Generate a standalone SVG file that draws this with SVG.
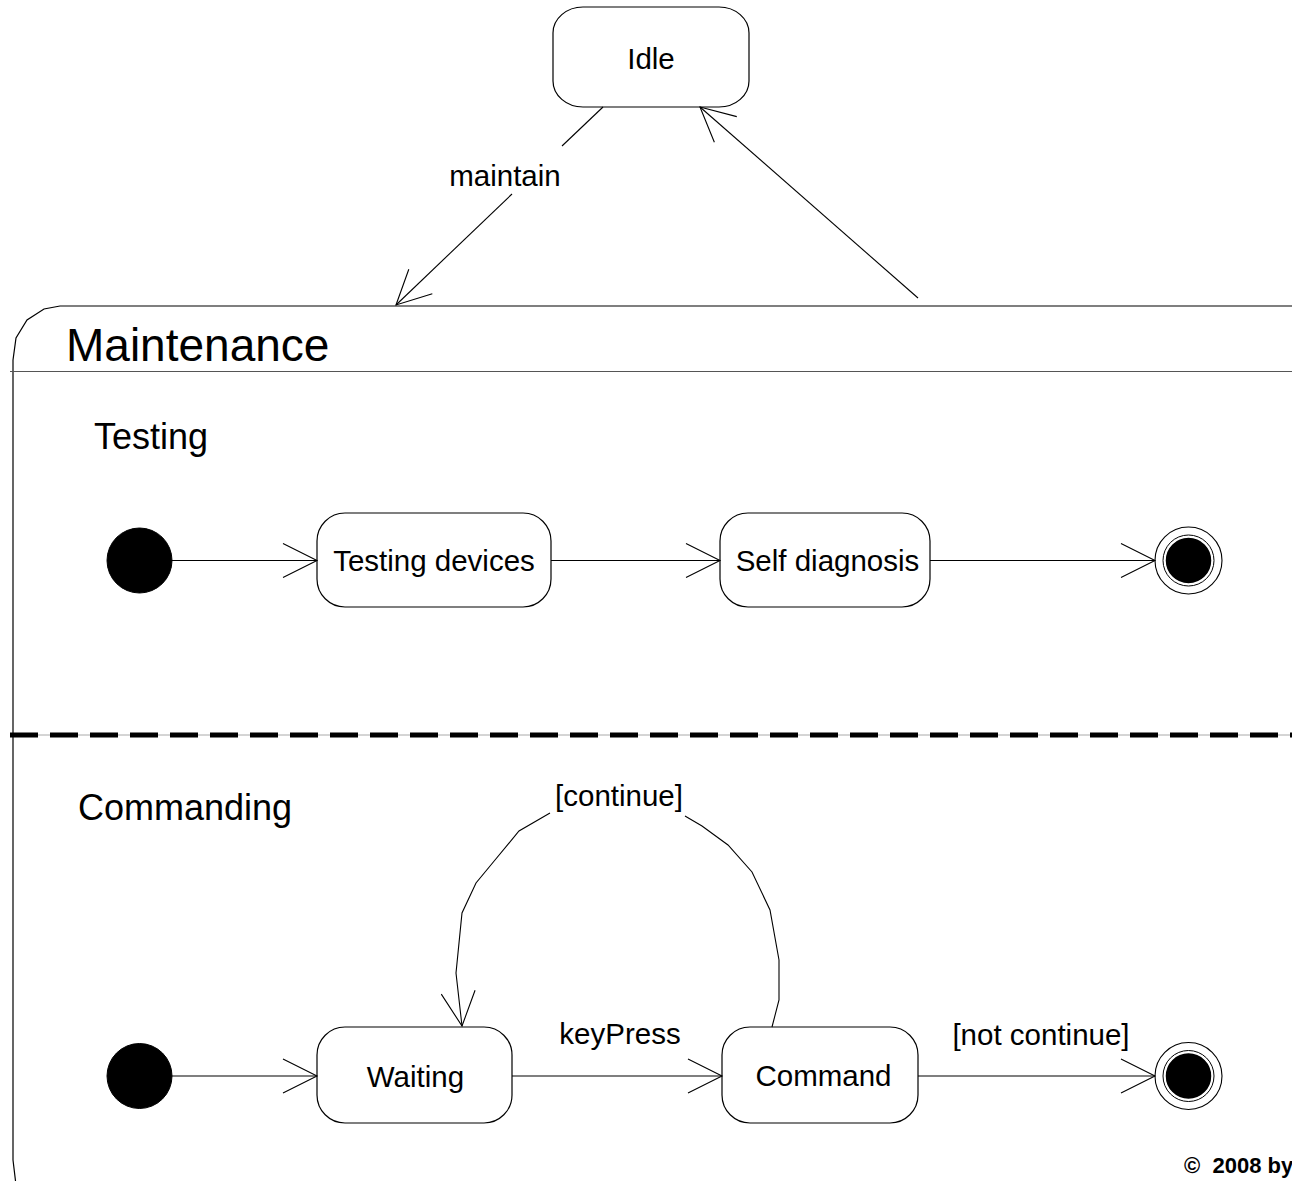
<svg xmlns="http://www.w3.org/2000/svg" width="1292" height="1181" viewBox="0 0 1292 1181">
  <defs>
    <style>
      .state { fill: #ffffff; stroke: #000000; stroke-width: 1.2; }
      .edge { fill: none; stroke: #000000; stroke-width: 1.1; }
      .lbl { font-family: "Liberation Sans", Arial, sans-serif; font-size: 29.5px; fill: #000000; text-anchor: middle; }
      .region { font-family: "Liberation Sans", Arial, sans-serif; font-size: 36px; fill: #000000; }
      .title { font-family: "Liberation Sans", Arial, sans-serif; font-size: 46px; fill: #000000; }
      .copy { font-family: "Liberation Sans", Arial, sans-serif; font-size: 22px; font-weight: bold; fill: #000000; }
      .init { fill: #000000; stroke: #000000; stroke-width: 1; }
      .finalOuter { fill: #ffffff; stroke: #000000; stroke-width: 1.1; }
      .finalInner { fill: #000000; stroke: #ffffff; stroke-width: 1.5; }
      .finalRing { fill: none; stroke: #000000; stroke-width: 1; }
    </style>
    <marker id="open" markerUnits="userSpaceOnUse" markerWidth="40" markerHeight="40" viewBox="-36 -20 40 40" refX="0" refY="0" orient="auto">
      <path d="M-34,-17 L0,0 L-34,17" fill="none" stroke="#000000" stroke-width="1.1"/>
    </marker>
  </defs>

  <rect x="0" y="0" width="1292" height="1181" fill="#ffffff"/>

  <!-- composite state outline, header and region divider -->
  <g id="maintenance">
    <path d="M1292,306 L60,306 L44,309 L27,320 L16,338 L13,360 L13,1160 L16,1185" fill="none" stroke="#000000" stroke-width="1.2"/>
    <line x1="10" y1="371.5" x2="1292" y2="371.5" stroke="#555555" stroke-width="1.2"/>
    <text class="title" x="66" y="361">Maintenance</text>
    <line x1="10" y1="735" x2="1292" y2="735" stroke="#aaaaaa" stroke-width="1"/>
    <line x1="10" y1="735" x2="1292" y2="735" stroke="#000000" stroke-width="5" stroke-dasharray="28 12"/>
    <text class="region" x="94" y="449">Testing</text>
    <text class="region" x="78" y="820">Commanding</text>
  </g>

  <g id="idle">
    <rect class="state" x="553" y="7" width="196" height="100" rx="30" ry="26"/>
    <text class="lbl" x="651" y="69">Idle</text>
  </g>

  <g id="testing-initial">
    <circle class="init" cx="139.5" cy="560.5" r="32.5"/>
  </g>
  <g id="testing-devices">
    <rect class="state" x="317" y="513" width="234" height="94" rx="28" ry="28"/>
    <text class="lbl" x="434" y="571">Testing devices</text>
  </g>
  <g id="self-diagnosis">
    <rect class="state" x="720" y="513" width="210" height="94" rx="28" ry="28"/>
    <text class="lbl" x="827.5" y="571">Self diagnosis</text>
  </g>
  <g id="testing-final">
    <circle class="finalOuter" cx="1188.5" cy="560.5" r="33.5"/>
    <circle class="finalRing" cx="1188.5" cy="560.5" r="25.5"/>
    <circle class="finalInner" cx="1188.5" cy="560.5" r="23.5"/>
  </g>

  <g id="commanding-initial">
    <circle class="init" cx="139.5" cy="1076" r="32.5"/>
  </g>
  <g id="waiting">
    <rect class="state" x="317" y="1027" width="195" height="96" rx="28" ry="28"/>
    <text class="lbl" x="415.5" y="1087">Waiting</text>
  </g>
  <g id="command">
    <rect class="state" x="722" y="1027" width="196" height="96" rx="28" ry="28"/>
    <text class="lbl" x="823.5" y="1086">Command</text>
  </g>
  <g id="commanding-final">
    <circle class="finalOuter" cx="1188.5" cy="1076" r="33.5"/>
    <circle class="finalRing" cx="1188.5" cy="1076" r="25.5"/>
    <circle class="finalInner" cx="1188.5" cy="1076" r="23.5"/>
  </g>

  <!-- transitions -->
  <g id="connectors">
    <line class="edge" x1="603" y1="107" x2="562" y2="146"/>
    <line class="edge" x1="512" y1="194" x2="396" y2="305" marker-end="url(#open)"/>
    <text class="lbl" x="505" y="186">maintain</text>
    <line class="edge" x1="918" y1="298" x2="700" y2="107" marker-end="url(#open)"/>

    <line class="edge" x1="172" y1="560.5" x2="317" y2="560.5" marker-end="url(#open)"/>
    <line class="edge" x1="551" y1="560.5" x2="720" y2="560.5" marker-end="url(#open)"/>
    <line class="edge" x1="930" y1="560.5" x2="1155" y2="560.5" marker-end="url(#open)"/>

    <line class="edge" x1="172" y1="1076" x2="317" y2="1076" marker-end="url(#open)"/>
    <line class="edge" x1="512" y1="1076" x2="722" y2="1076" marker-end="url(#open)"/>
    <text class="lbl" x="620" y="1044">keyPress</text>
    <line class="edge" x1="918" y1="1076" x2="1155" y2="1076" marker-end="url(#open)"/>
    <text class="lbl" x="1041" y="1045">[not continue]</text>

    <polyline class="edge" points="772,1027 779,1000 779,960 770,910 752,872 728,845 702,826 685,816"/>
    <polyline class="edge" points="550,813 519,831 495,860 476,883 462,913 456,973 462,1026" marker-end="url(#open)"/>
    <text class="lbl" x="619" y="806">[continue]</text>
  </g>

  <text class="copy" x="1184" y="1173" xml:space="preserve">©  2008 by</text>
</svg>
